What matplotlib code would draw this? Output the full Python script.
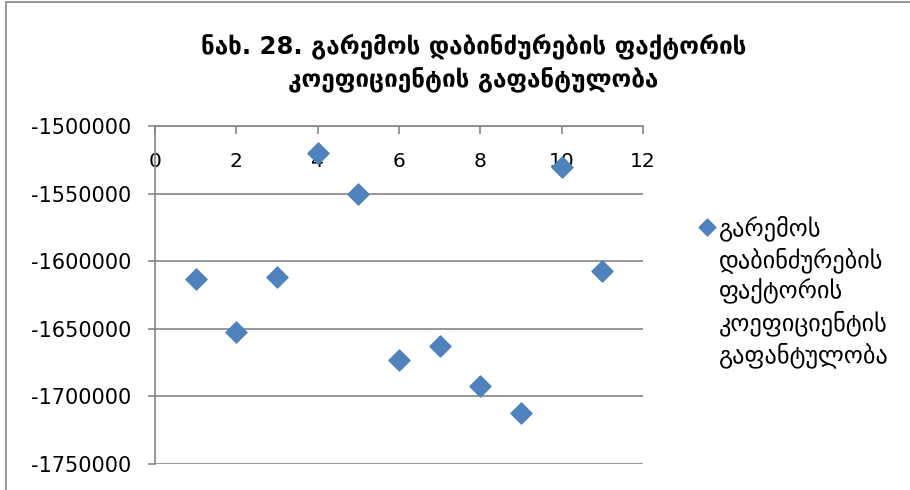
import matplotlib
matplotlib.use("Agg")
import matplotlib.pyplot as plt
from matplotlib.patches import Rectangle

title = "ნახ. 28. გარემოს დაბინძურების ფაქტორის\nკოეფიციენტის გაფანტულობა"
series_name = "გარემოს\nდაბინძურების\nფაქტორის\nკოეფიციენტის\nგაფანტულობა"

x_vals = [1, 2, 3, 4, 5, 6, 7, 8, 9, 10, 11]
y_vals = [-1613000, -1652000, -1612000, -1520000, -1550000, -1673000,
          -1663000, -1692000, -1712000, -1530000, -1607000]

x_ticks = [0, 2, 4, 6, 8, 10, 12]
y_ticks = [-1750000, -1700000, -1650000, -1600000, -1550000, -1500000]

grey = "#868686"
blue = "#4F81BD"

plt.rcParams['font.family'] = ['DejaVu Sans']

fig = plt.figure(figsize=(9.1, 4.9), dpi=100)
ax = fig.add_axes([155 / 910, 1 - 464 / 490, (643 - 155) / 910, (464 - 126) / 490])

ax.scatter(x_vals, y_vals, marker='D', s=115, color=blue, zorder=3,
           label=series_name, clip_on=False)

ax.set_xlim(0, 12)
ax.set_ylim(-1750000, -1500000)
ax.set_xticks(x_ticks)
ax.set_yticks(y_ticks)
ax.set_yticklabels([str(v) for v in y_ticks])

ax.grid(axis='y', color=grey, linewidth=1.2)
ax.set_axisbelow(True)

for s in ['top', 'right']:
    ax.spines[s].set_visible(False)
ax.spines['left'].set_color(grey)
ax.spines['left'].set_linewidth(1.2)
ax.spines['bottom'].set_position(('data', -1500000))
ax.spines['bottom'].set_color(grey)
ax.spines['bottom'].set_linewidth(1.2)

ax.tick_params(axis='x', direction='out', length=6, width=1.2, color=grey,
               labelsize=14.5, pad=13)
ax.tick_params(axis='y', direction='out', length=5, width=1.2, color=grey,
               labelsize=15, pad=12)

fig.text(0.52, 0.872, title, ha='center', va='center', fontsize=17.5,
         fontweight='bold', linespacing=1.42)

leg = ax.legend(loc='upper left', bbox_to_anchor=(0.757, 0.58),
                bbox_transform=fig.transFigure, frameon=False, fontsize=17.5,
                handletextpad=0.15, handlelength=0.7, handleheight=1.15,
                borderaxespad=0, labelspacing=0, markerscale=0.8)
for t in leg.get_texts():
    t.set_linespacing(1.3)
for col in leg._legend_handle_box.get_children():
    for row in col.get_children():
        row.align = 'top'

fig.patches.append(Rectangle((5.5 / 910, -0.1), 1.2, 1.1 - 2.5 / 490,
                             transform=fig.transFigure, fill=False,
                             edgecolor=grey, linewidth=1.2))

fig.savefig("out.png", dpi=100)
